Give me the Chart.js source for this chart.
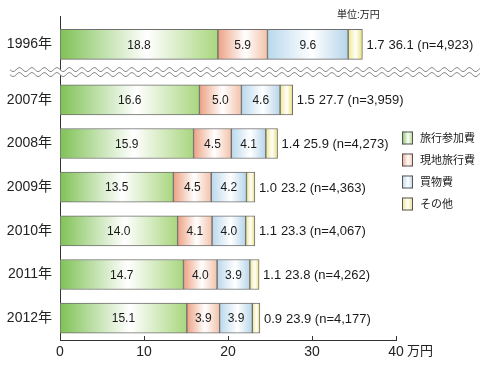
<!DOCTYPE html>
<html>
<head>
<meta charset="utf-8">
<script src="https://cdn.jsdelivr.net/npm/chart.js@4/dist/chart.umd.min.js"></script>
<style>
  body { margin: 0; background: #fff; }
  #wrap { width: 480px; height: 367px; }
</style>
</head>
<body>
<div id="wrap"><canvas id="tripCost" width="480" height="367"></canvas></div>
<script>
// data (unit: 万円)
const years = ['1996年', '2007年', '2008年', '2009年', '2010年', '2011年', '2012年'];
const seriesNames = ['旅行参加費', '現地旅行費', '買物費', 'その他'];
const tourFee  = [18.8, 16.6, 15.9, 13.5, 14.0, 14.7, 15.1];
const localFee = [5.9, 5.0, 4.5, 4.5, 4.1, 4.0, 3.9];
const shopping = [9.6, 4.6, 4.1, 4.2, 4.0, 3.9, 3.9];
const other    = [1.7, 1.5, 1.4, 1.0, 1.1, 1.1, 0.9];
const totals   = ['36.1', '27.7', '25.9', '23.2', '23.3', '23.8', '23.9'];
const counts   = ['4,923', '3,959', '4,273', '4,363', '4,067', '4,262', '4,177'];
const xTicks = [0, 10, 20, 30, 40];

const series = [tourFee, localFee, shopping, other];

// the axis is broken between 1996 and 2007, so that row gets a bit more room
const breakGap = 0.27;
const rowPos = years.map((y, i) => i === 0 ? 0 : i + breakGap);

// gradient stops: left colour -> white -> right colour
const fills = [
    ['#80c256', '#a9d67f'],
    ['#eda283', '#f3c2aa'],
    ['#b9d8ec', '#b6d5ea'],
    ['#f0e78c', '#ebdf74']
];
const FONT = "'Liberation Sans', 'Noto Sans CJK JP', sans-serif";

function makeGrad(ctx, k, x0, x1) {
    const g = ctx.createLinearGradient(x0, 0, x1, 0);
    g.addColorStop(0, fills[k][0]);
    g.addColorStop(0.55, '#ffffff');
    g.addColorStop(1, fills[k][1]);
    return g;
}

function segFill(k) {
    return (c) => {
        const chart = c.chart;
        const xs = chart.scales.x;
        if (c.type !== 'data' || !xs || !chart.chartArea) return fills[k][0];
        const i = c.dataIndex;
        let start = 0;
        for (let j = 0; j < k; j++) start += series[j][i];
        const x0 = xs.getPixelForValue(start);
        const x1 = xs.getPixelForValue(start + series[k][i]);
        return makeGrad(chart.ctx, k, x0, x1);
    };
}

const barLabels = {
    id: 'barLabels',
    afterDatasetsDraw(chart) {
        const ctx = chart.ctx;
        ctx.save();
        ctx.fillStyle = '#1a1a1a';
        ctx.textBaseline = 'middle';
        chart.data.datasets.forEach((ds, d) => {
            chart.getDatasetMeta(d).data.forEach((bar, i) => {
                const v = series[d][i].toFixed(1);
                if (d < 3) {
                    ctx.font = '12px ' + FONT;
                    ctx.textAlign = 'center';
                    ctx.fillText(v, (bar.x + bar.base) / 2, bar.y + 1);
                } else {
                    ctx.font = '13px ' + FONT;
                    ctx.textAlign = 'left';
                    ctx.fillText(v, bar.x + 4, bar.y + 1);
                    ctx.fillText(totals[i] + ' (n=' + counts[i] + ')', bar.x + 26, bar.y + 1);
                }
            });
        });
        ctx.restore();
    }
};

const decorations = {
    id: 'decorations',
    afterDraw(chart) {
        const ctx = chart.ctx;
        const xs = chart.scales.x, ys = chart.scales.y;
        const area = chart.chartArea;
        ctx.save();

        // small upward tick marks on the x axis
        ctx.strokeStyle = '#333';
        ctx.lineWidth = 1;
        xTicks.slice(1).forEach(t => {
            const px = Math.round(xs.getPixelForValue(t)) + 0.5;
            ctx.beginPath();
            ctx.moveTo(px, area.bottom);
            ctx.lineTo(px, area.bottom - 4);
            ctx.stroke();
        });

        // unit after the last tick and at the top
        ctx.fillStyle = '#222';
        ctx.textBaseline = 'middle';
        ctx.textAlign = 'left';
        ctx.font = '13px ' + FONT;
        ctx.fillText('万円', xs.getPixelForValue(40) + 11, area.bottom + 11);
        ctx.font = '10px ' + FONT;
        ctx.fillText('単位:万円', 337, 15);

        // wavy break line between 1996 and 2007
        const yc = (ys.getPixelForValue(rowPos[0]) + ys.getPixelForValue(rowPos[1])) / 2;
        const x0 = 10, x1 = chart.width, P = 12.5, A = 2;
        const wave = (off) => {
            const pts = [];
            for (let x = x0; x <= x1; x += 1) {
                pts.push([x, yc + off + A * Math.sin(2 * Math.PI * (x - x0) / P)]);
            }
            return pts;
        };
        const top = wave(-2.5), bot = wave(2.5);
        ctx.fillStyle = '#fff';
        ctx.beginPath();
        top.forEach((p, i) => i ? ctx.lineTo(p[0], p[1]) : ctx.moveTo(p[0], p[1]));
        bot.slice().reverse().forEach(p => ctx.lineTo(p[0], p[1]));
        ctx.closePath();
        ctx.fill();
        ctx.strokeStyle = '#8a8a8a';
        [top, bot].forEach(line => {
            ctx.beginPath();
            line.forEach((p, i) => i ? ctx.lineTo(p[0], p[1]) : ctx.moveTo(p[0], p[1]));
            ctx.stroke();
        });

        // legend on the right
        ctx.font = '11px ' + FONT;
        ctx.textAlign = 'left';
        chart.data.datasets.forEach((ds, k) => {
            const cy = 138 + k * 22;
            ctx.fillStyle = makeGrad(ctx, k, 402, 413);
            ctx.fillRect(402, cy - 6.5, 11, 13);
            ctx.strokeStyle = '#555';
            ctx.strokeRect(402.5, cy - 6, 10, 12);
            ctx.fillStyle = '#222';
            ctx.fillText(ds.label, 420, cy + 0.5);
        });
        ctx.restore();
    }
};

const datasets = series.map((vals, k) => ({
    label: seriesNames[k],
    data: vals.map((v, i) => ({ x: v, y: rowPos[i] })),
    backgroundColor: segFill(k),
    borderColor: '#6e6e6e',
    borderWidth: 1,
    borderSkipped: false,
    barThickness: 30
}));

new Chart(document.getElementById('tripCost'), {
    type: 'bar',
    data: { datasets: datasets },
    options: {
        indexAxis: 'y',
        responsive: false,
        animation: false,
        layout: { padding: { top: 14, right: 84, left: 0, bottom: 0 } },
        plugins: { legend: { display: false }, tooltip: { enabled: false } },
        scales: {
            x: {
                type: 'linear',
                stacked: true,
                offset: false,
                min: 0, max: 40,
                afterBuildTicks: s => { s.ticks = xTicks.map(v => ({ value: v })); },
                afterFit: s => { s.height = 27; },
                grid: { display: false, drawTicks: false },
                border: { display: true, color: '#333', width: 1 },
                ticks: { color: '#222', font: { family: FONT, size: 14 }, padding: 4 }
            },
            y: {
                type: 'linear',
                stacked: true,
                offset: false,
                reverse: true,
                min: -0.64, max: 6.77,
                afterBuildTicks: s => { s.ticks = rowPos.map(v => ({ value: v })); },
                afterFit: s => { s.width = 60; },
                grid: { display: false, drawTicks: false, offset: false },
                border: { display: true, color: '#333', width: 1 },
                ticks: {
                    color: '#222',
                    font: { family: FONT, size: 14 },
                    padding: 8,
                    callback: (v, i) => years[i]
                }
            }
        }
    },
    plugins: [barLabels, decorations]
});
</script>
</body>
</html>
